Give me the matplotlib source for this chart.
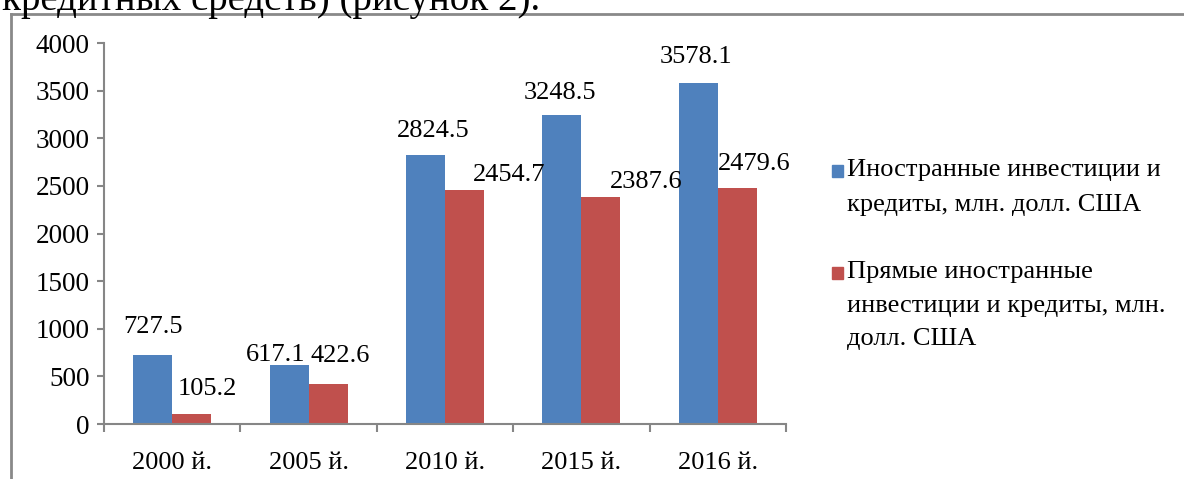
import matplotlib.pyplot as plt
from matplotlib.patches import Rectangle
from matplotlib.lines import Line2D
import numpy as np

plt.rcParams['font.family'] = ['Liberation Serif', 'DejaVu Serif']

years = ['2000 й.', '2005 й.', '2010 й.', '2015 й.', '2016 й.']
total_inv = [727.5, 617.1, 2824.5, 3248.5, 3578.1]
direct_inv = [105.2, 422.6, 2454.7, 2387.6, 2479.6]
series_names = [['Иностранные инвестиции и', 'кредиты, млн. долл. США'],
                ['Прямые иностранные', 'инвестиции и кредиты, млн.', 'долл. США']]
colors = ['#4F81BD', '#C0504D']

# hand-placed value label offsets (pixels from the top centre of each bar)
total_offsets = [(0, 28), (-13, 10), (8, 24), (-2, 22), (-2, 26)]
direct_offsets = [(16, 25), (12, 28), (45, 15), (45, 15), (17, 24)]

W, H = 1184, 479
fig = plt.figure(figsize=(W / 100, H / 100), dpi=100)
ax = fig.add_axes([104 / W, 1 - 424 / H, 682 / W, 381 / H])

x = np.arange(len(years))
w = 0.2857
b1 = ax.bar(x - w / 2, total_inv, w, color=colors[0], edgecolor='none')
b2 = ax.bar(x + w / 2, direct_inv, w, color=colors[1], edgecolor='none')

for bars, vals, offs in [(b1, total_inv, total_offsets), (b2, direct_inv, direct_offsets)]:
    for rect, v, (dx, dy) in zip(bars, vals, offs):
        ax.annotate(f'{v:.1f}', (rect.get_x() + rect.get_width() / 2, v),
                    xytext=(dx, dy), textcoords='offset pixels',
                    ha='center', va='center', fontsize=19)

ax.set_xlim(-0.5, len(years) - 0.5)
ax.set_ylim(0, 4000)
ax.set_yticks(np.arange(0, 4001, 500))
ax.set_xticks(x)
ax.set_xticklabels(years)
ax.set_xticks(np.arange(-0.5, len(years)), minor=True)

spine_c = '#868686'
for s in ['top', 'right']:
    ax.spines[s].set_visible(False)
for s in ['left', 'bottom']:
    ax.spines[s].set_color(spine_c)
    ax.spines[s].set_linewidth(1.5)
ax.tick_params(axis='y', direction='out', length=5, width=1.5, color=spine_c,
               labelsize=19.5, pad=5.5)
ax.tick_params(axis='x', which='major', length=0, labelsize=19, pad=20)
ax.tick_params(axis='x', which='minor', direction='out', length=6, width=1.5,
               color=spine_c)

# legend drawn by hand so the markers sit on the first text line
leg_lines_y = [[170, 205], [272, 306, 339]]
for lines, c, ys in zip(series_names, colors, leg_lines_y):
    fig.patches.append(Rectangle((832 / W, 1 - (ys[0] + 7) / H), 11 / W, 12 / H,
                                 transform=fig.transFigure, color=c))
    for txt, yy in zip(lines, ys):
        fig.text(847 / W, 1 - yy / H, txt, fontsize=19, va='center', ha='left')

# chart frame and the page line above it
fig.lines.append(Line2D([11 / W, 11 / W], [1 - 14 / H, 0], transform=fig.transFigure,
                        color='#898989', lw=2))
fig.lines.append(Line2D([11 / W, 1], [1 - 14 / H, 1 - 14 / H], transform=fig.transFigure,
                        color='#898989', lw=2))
fig.text(2 / W, 1 - 10 / H, 'кредитных средств) (рисунок 2).', fontsize=28,
         va='baseline', ha='left')

fig.savefig('out.png', dpi=100, facecolor='white')
